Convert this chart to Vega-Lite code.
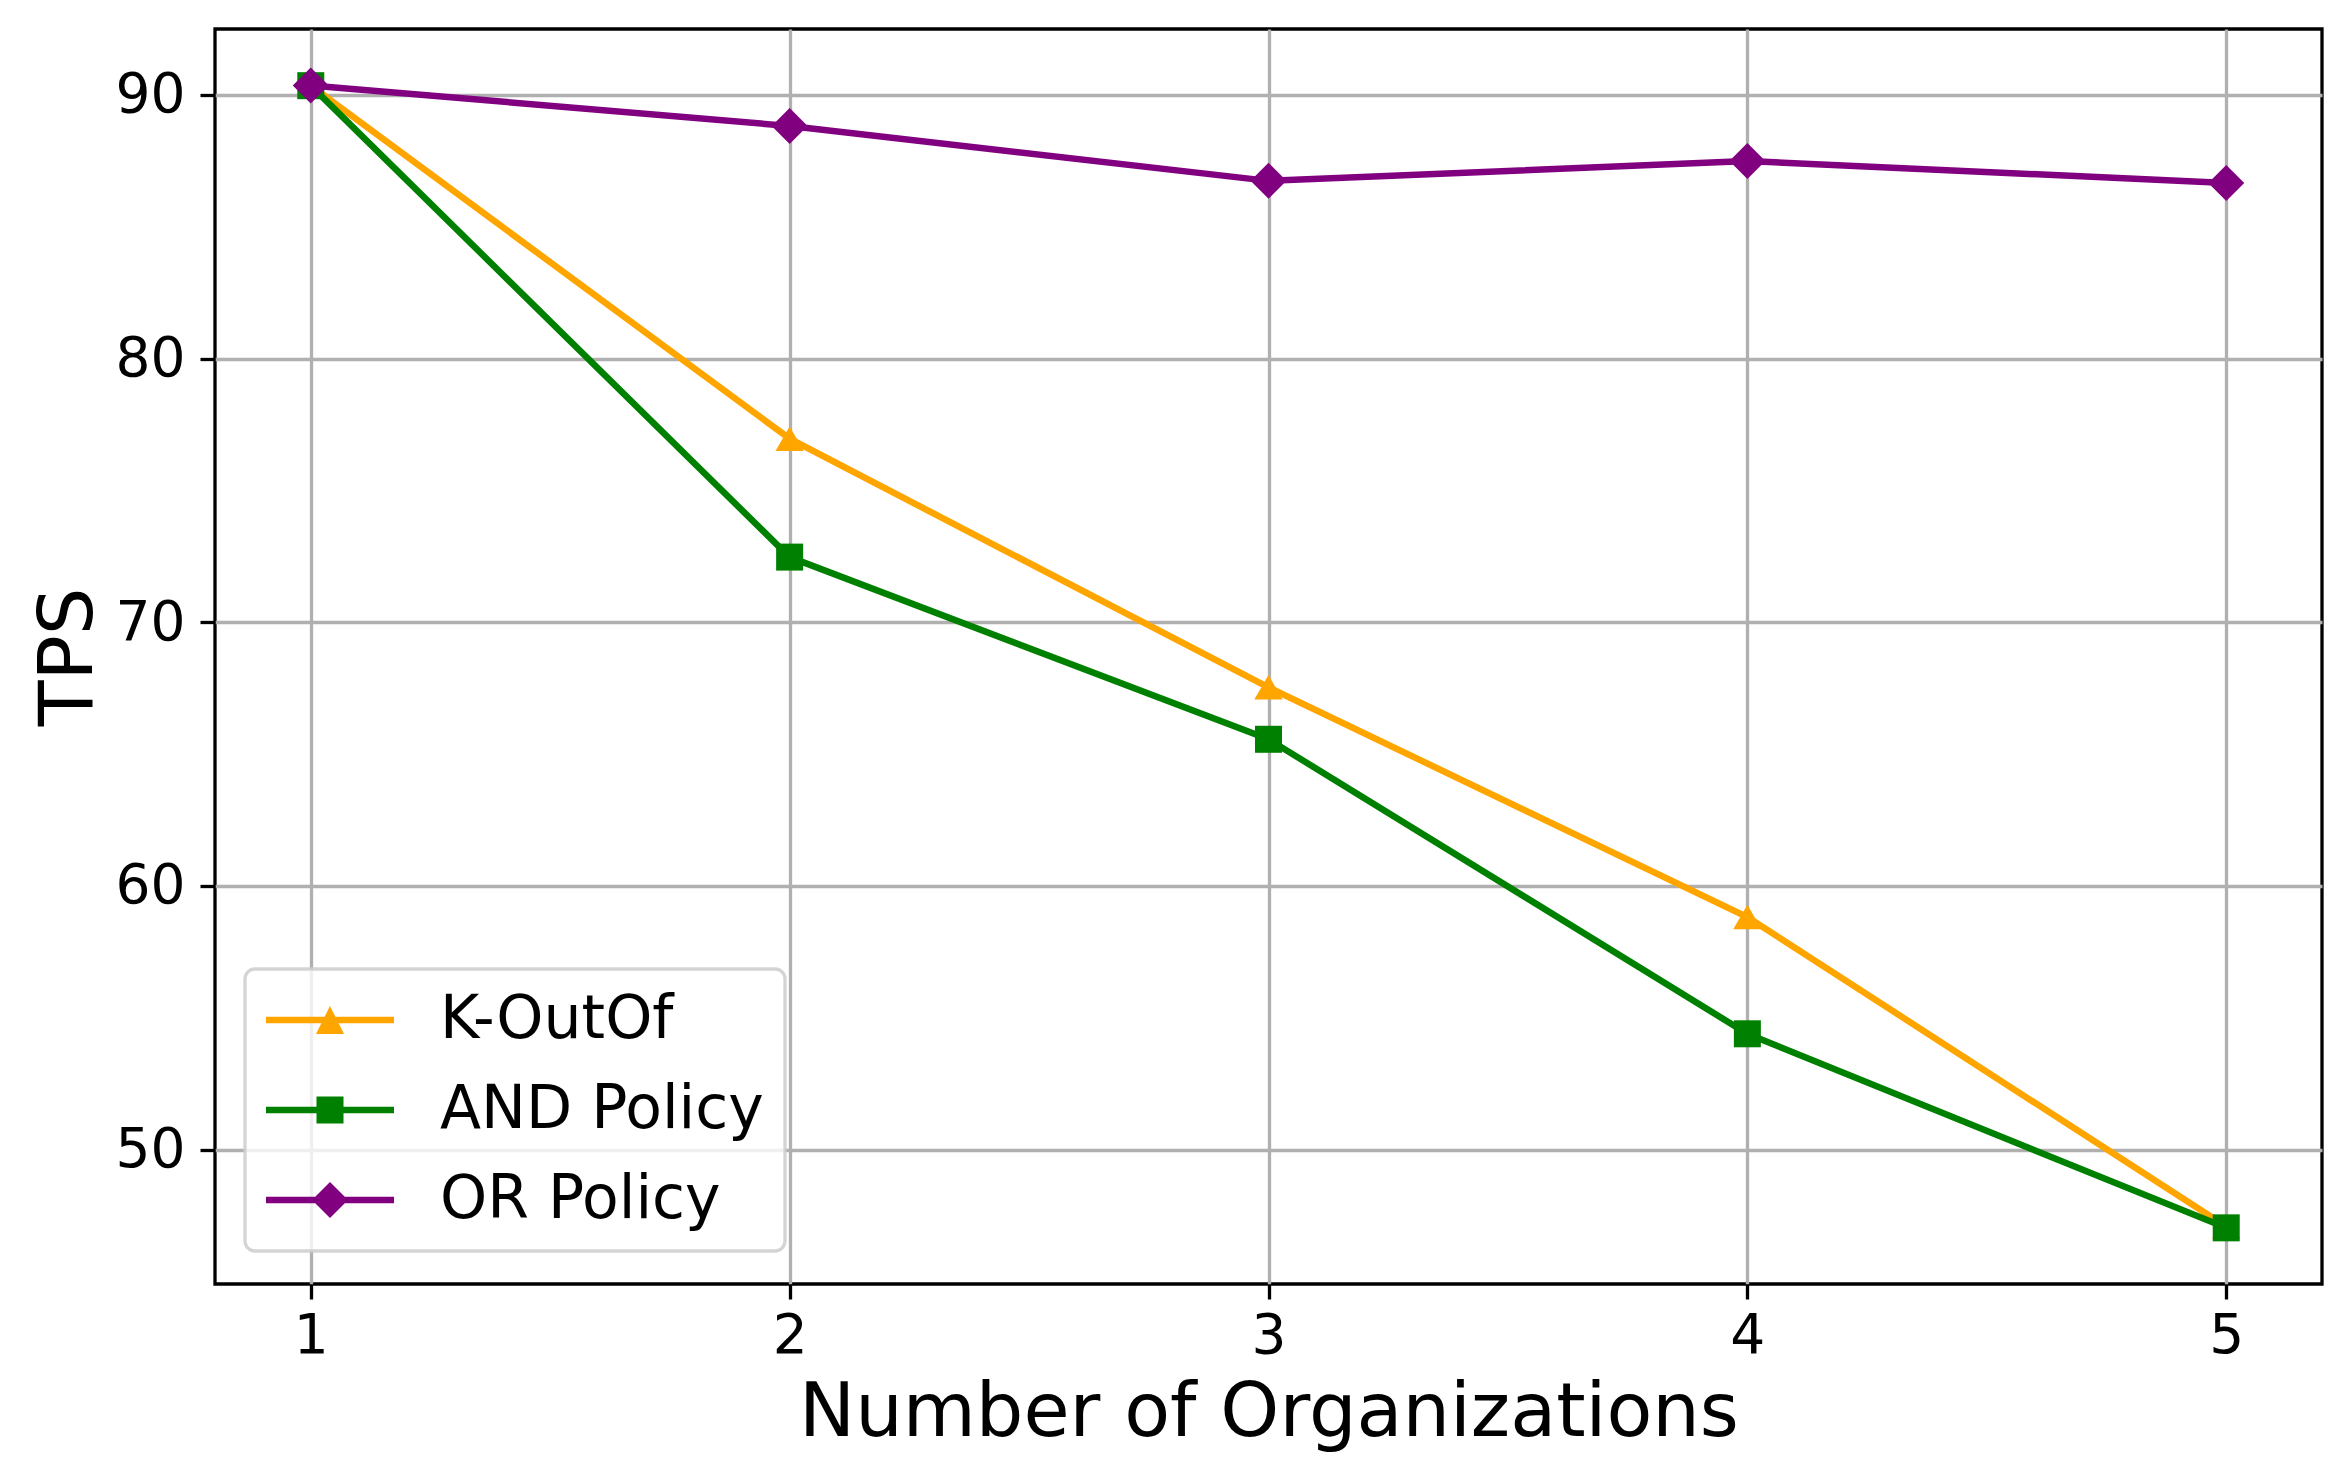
{
  "$schema": "https://vega.github.io/schema/vega-lite/v6.json",
  "width": 2107,
  "height": 1255,
  "autosize": {"type": "none"},
  "padding": {"left": 215, "top": 29, "right": 24, "bottom": 189},
  "background": "white",
  "data": {
    "values": [
      {"orgs": 1, "tps": 90.35, "series": "K-OutOf"},
      {"orgs": 2, "tps": 76.96, "series": "K-OutOf"},
      {"orgs": 3, "tps": 67.53, "series": "K-OutOf"},
      {"orgs": 4, "tps": 58.82, "series": "K-OutOf"},
      {"orgs": 5, "tps": 47.08, "series": "K-OutOf"},
      {"orgs": 1, "tps": 90.35, "series": "AND Policy"},
      {"orgs": 2, "tps": 72.47, "series": "AND Policy"},
      {"orgs": 3, "tps": 65.56, "series": "AND Policy"},
      {"orgs": 4, "tps": 54.39, "series": "AND Policy"},
      {"orgs": 5, "tps": 47.03, "series": "AND Policy"},
      {"orgs": 1, "tps": 90.36, "series": "OR Policy"},
      {"orgs": 2, "tps": 88.82, "series": "OR Policy"},
      {"orgs": 3, "tps": 86.74, "series": "OR Policy"},
      {"orgs": 4, "tps": 87.49, "series": "OR Policy"},
      {"orgs": 5, "tps": 86.66, "series": "OR Policy"}
    ]
  },
  "encoding": {
    "x": {
      "field": "orgs",
      "type": "quantitative",
      "title": "Number of Organizations",
      "scale": {"domain": [0.8, 5.2], "nice": false, "zero": false},
      "axis": {
        "values": [1, 2, 3, 4, 5],
        "format": "d",
        "labelBaseline": "top",
        "labelPadding": 10,
        "titleY": 151,
        "titleBaseline": "alphabetic"
      }
    },
    "y": {
      "field": "tps",
      "type": "quantitative",
      "title": "TPS",
      "scale": {"domain": [44.9, 92.5], "nice": false, "zero": false},
      "axis": {
        "values": [50, 60, 70, 80, 90],
        "labelPadding": 15,
        "titleX": -124,
        "titleY": 627.5,
        "titleAngle": -90,
        "titleAlign": "center",
        "titleBaseline": "alphabetic"
      }
    }
  },
  "layer": [
    {
      "transform": [{"filter": "datum.series === 'K-OutOf'"}],
      "mark": {"type": "line", "color": "#FFA500", "strokeWidth": 6.5},
      "encoding": {}
    },
    {
      "transform": [{"filter": "datum.series === 'K-OutOf'"}],
      "mark": {"type": "point", "shape": "triangle-up", "filled": true, "opacity": 1, "color": "#FFA500", "size": 800},
      "encoding": {}
    },
    {
      "transform": [{"filter": "datum.series === 'AND Policy'"}],
      "mark": {"type": "line", "color": "#008000", "strokeWidth": 6.5},
      "encoding": {}
    },
    {
      "transform": [{"filter": "datum.series === 'AND Policy'"}],
      "mark": {"type": "point", "shape": "square", "filled": true, "opacity": 1, "color": "#008000", "size": 729},
      "encoding": {}
    },
    {
      "transform": [{"filter": "datum.series === 'OR Policy'"}],
      "mark": {"type": "line", "color": "#800080", "strokeWidth": 6.5},
      "encoding": {}
    },
    {
      "transform": [{"filter": "datum.series === 'OR Policy'"}],
      "mark": {"type": "point", "shape": "diamond", "filled": true, "opacity": 1, "color": "#800080", "size": 1296},
      "encoding": {}
    },
    {
      "mark": {"type": "point", "filled": true, "opacity": 0, "size": 3600},
      "encoding": {
        "color": {
          "field": "series",
          "type": "nominal",
          "scale": {"domain": ["K-OutOf", "AND Policy", "OR Policy"], "range": ["#FFA500", "#008000", "#800080"]},
          "legend": {"title": null, "orient": "none", "legendX": 30, "legendY": 940}
        },
        "shape": {
          "field": "series",
          "type": "nominal",
          "scale": {
            "domain": ["K-OutOf", "AND Policy", "OR Policy"],
            "range": [
              "M-2.133,-0.108H2.133V0.108H-2.133Z M0,-0.467L0.467,0.467L-0.467,0.467Z",
              "M-2.133,-0.108H2.133V0.108H-2.133Z M-0.45,-0.45H0.45V0.45H-0.45Z",
              "M-2.133,-0.108H2.133V0.108H-2.133Z M0,-0.6L0.6,0L0,0.6L-0.6,0Z"
            ]
          },
          "legend": {"title": null, "orient": "none", "legendX": 30, "legendY": 940}
        }
      }
    }
  ],
  "config": {
    "font": "DejaVu Sans",
    "view": {"stroke": "black", "strokeWidth": 3.3},
    "axis": {
      "domain": false,
      "grid": true,
      "gridColor": "#b0b0b0",
      "gridWidth": 3.3,
      "gridOpacity": 1,
      "ticks": true,
      "tickColor": "black",
      "tickWidth": 3.3,
      "tickSize": 15,
      "labelFont": "DejaVu Sans",
      "labelFontSize": 55,
      "labelColor": "black",
      "titleFont": "DejaVu Sans",
      "titleFontSize": 75,
      "titleFontWeight": "normal",
      "titleColor": "black"
    },
    "legend": {
      "padding": 21,
      "fillColor": "rgba(255,255,255,0.8)",
      "strokeColor": "rgba(204,204,204,0.85)",
      "strokeWidth": 3.3,
      "cornerRadius": 10,
      "symbolSize": 3600,
      "symbolStrokeWidth": 0,
      "symbolOpacity": 1,
      "symbolOffset": 34,
      "labelOffset": 80,
      "labelFont": "DejaVu Sans",
      "labelFontSize": 60,
      "labelColor": "black",
      "labelBaseline": "middle",
      "labelLimit": 0,
      "rowPadding": 30,
      "direction": "vertical",
      "columns": 1
    }
  }
}
